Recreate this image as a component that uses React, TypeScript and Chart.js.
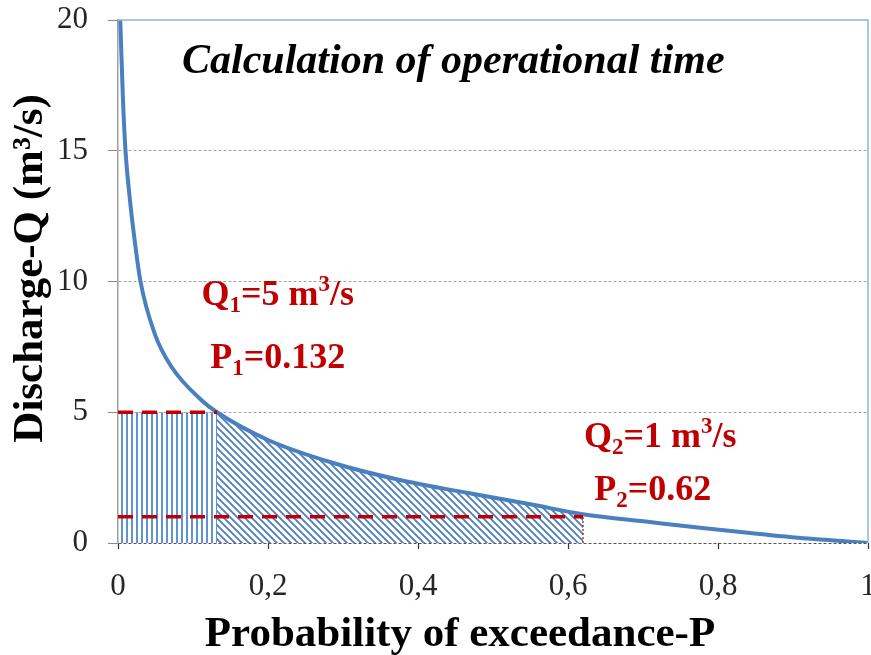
import React, { useEffect, useRef } from 'react';
import { Chart, registerables } from 'chart.js';

Chart.register(...registerables);

// Flow duration curve
const P_VALUES = [0.003, 0.0067, 0.01, 0.016, 0.021, 0.03, 0.049, 0.071, 0.111, 0.132, 0.2, 0.287, 0.376, 0.465, 0.55, 0.62, 0.709, 0.776, 0.843, 0.92, 0.976, 1.0];
const Q_VALUES = [20, 16.9, 15, 13.1, 11.85, 10, 8.0, 6.75, 5.47, 5, 3.94, 3.06, 2.41, 1.92, 1.48, 1.1, 0.8, 0.58, 0.38, 0.17, 0.05, 0];

const Q1 = 5;
const P1 = 0.132;
const Q2 = 1;
const P2 = 0.62;

const X_TICKS = [0, 0.2, 0.4, 0.6, 0.8, 1];
const X_TICK_LABELS = ['0', '0,2', '0,4', '0,6', '0,8', '1'];
const Y_MIN = 0;
const Y_MAX = 20;
const Y_STEP = 5;

const TITLE = 'Calculation of operational time';
const X_TITLE = 'Probability of exceedance-P';
const Y_TITLE = 'Discharge-Q (m³/s)';

const FONT = '"Liberation Serif", "Times New Roman", serif';
const RED = '#c00000';
const BLUE = '#4a7fc0';

type Seg = { t: string; k?: 'sub' | 'sup' };

function drawRich(ctx: CanvasRenderingContext2D, segs: Seg[], cx: number, base: number, size: number) {
  const main = `bold ${size}px ${FONT}`;
  const small = `bold ${Math.round(size * 0.64)}px ${FONT}`;
  const widths = segs.map((s) => {
    ctx.font = s.k ? small : main;
    return ctx.measureText(s.t).width;
  });
  const total = widths.reduce((a, b) => a + b, 0);
  let x = cx - total / 2;
  ctx.textAlign = 'left';
  ctx.textBaseline = 'alphabetic';
  segs.forEach((s, i) => {
    ctx.font = s.k ? small : main;
    const dy = s.k === 'sub' ? size * 0.2 : s.k === 'sup' ? -size * 0.38 : 0;
    ctx.fillText(s.t, x, base + dy);
    x += widths[i];
  });
}

function makeVerticalPattern(): CanvasPattern | string {
  const c = document.createElement('canvas');
  c.width = 5;
  c.height = 10;
  const g = c.getContext('2d');
  if (!g) return '#6b9ad6';
  g.fillStyle = '#5f92d3';
  g.fillRect(1, 0, 2, 10);
  return g.createPattern(c, 'repeat') || '#6b9ad6';
}

function makeDiagonalPattern(): CanvasPattern | string {
  const c = document.createElement('canvas');
  const s = 7;
  c.width = s;
  c.height = s;
  const g = c.getContext('2d');
  if (!g) return BLUE;
  g.strokeStyle = '#4a7ebf';
  g.lineWidth = 1.8;
  g.beginPath();
  g.moveTo(-1, -1);
  g.lineTo(s + 1, s + 1);
  g.moveTo(-1, s - 1);
  g.lineTo(1, s + 1);
  g.moveTo(s - 1, -1);
  g.lineTo(s + 1, 1);
  g.stroke();
  return g.createPattern(c, 'repeat') || BLUE;
}

const overlayPlugin = {
  id: 'overlay',
  afterDatasetsDraw(chart: any) {
    const { ctx, chartArea: ca, scales } = chart;
    const x = scales.x;
    const y = scales.y;
    ctx.save();
    // frame (top & right)
    ctx.strokeStyle = '#8db3e2';
    ctx.lineWidth = 1.5;
    ctx.beginPath();
    ctx.moveTo(ca.left, ca.top);
    ctx.lineTo(ca.right, ca.top);
    ctx.lineTo(ca.right, ca.bottom);
    ctx.stroke();

    // title inside plot
    ctx.fillStyle = '#000';
    ctx.font = `italic bold 42px ${FONT}`;
    ctx.textAlign = 'center';
    ctx.textBaseline = 'alphabetic';
    ctx.fillText(TITLE, x.getPixelForValue(0.447), y.getPixelForValue(17.97));

    // annotations
    ctx.fillStyle = RED;
    drawRich(ctx, [{ t: 'Q' }, { t: '1', k: 'sub' }, { t: `=${Q1} m` }, { t: '3', k: 'sup' }, { t: '/s' }], x.getPixelForValue(0.213), y.getPixelForValue(9.1), 36);
    drawRich(ctx, [{ t: 'P' }, { t: '1', k: 'sub' }, { t: `=${P1}` }], x.getPixelForValue(0.213), y.getPixelForValue(6.69), 36);
    drawRich(ctx, [{ t: 'Q' }, { t: '2', k: 'sub' }, { t: `=${Q2} m` }, { t: '3', k: 'sup' }, { t: '/s' }], x.getPixelForValue(0.723), y.getPixelForValue(3.67), 36);
    drawRich(ctx, [{ t: 'P' }, { t: '2', k: 'sub' }, { t: `=${P2}` }], x.getPixelForValue(0.713), y.getPixelForValue(1.64), 36);

    // axis titles
    ctx.fillStyle = '#000';
    ctx.font = `bold 43px ${FONT}`;
    ctx.textAlign = 'center';
    ctx.textBaseline = 'middle';
    ctx.fillText(X_TITLE, x.getPixelForValue(0.456), 635);
    ctx.save();
    ctx.translate(31, y.getPixelForValue(10.5));
    ctx.rotate(-Math.PI / 2);
    ctx.fillText(Y_TITLE, 0, 0);
    ctx.restore();
    ctx.restore();
  },
};

export default function App() {
  const ref = useRef<HTMLCanvasElement | null>(null);

  useEffect(() => {
    if (!ref.current) return;
    const curve = P_VALUES.map((p, i) => ({ x: p, y: Q_VALUES[i] }));
    const between = curve.filter((pt) => pt.x >= P1 - 1e-9 && pt.x <= P2 + 1e-9);

    const chart = new Chart(ref.current, {
      type: 'line',
      data: {
        datasets: [
          {
            label: 'Q1 line',
            data: [{ x: 0, y: Q1 }, { x: P1, y: Q1 }],
            borderColor: RED,
            borderWidth: 3.5,
            borderDash: [15, 9],
            pointRadius: 0,
            fill: false,
          },
          {
            label: 'Q2 line',
            data: [{ x: 0, y: Q2 }, { x: P2, y: Q2 }],
            borderColor: RED,
            borderWidth: 3.5,
            borderDash: [15, 9],
            pointRadius: 0,
            fill: false,
          },
          {
            label: 'P2 line',
            data: [{ x: P2, y: 0 }, { x: P2, y: Q2 }],
            borderColor: RED,
            borderWidth: 1.2,
            borderDash: [2, 2],
            pointRadius: 0,
            fill: false,
          },
          {
            label: 'Flow duration curve',
            data: curve,
            borderColor: BLUE,
            borderWidth: 4,
            pointRadius: 0,
            cubicInterpolationMode: 'monotone',
            fill: false,
          },
          {
            label: 'Diagonal hatch',
            data: between,
            borderWidth: 0,
            borderColor: 'rgba(0,0,0,0)',
            backgroundColor: makeDiagonalPattern() as any,
            pointRadius: 0,
            cubicInterpolationMode: 'monotone',
            fill: 'origin',
          },
          {
            label: 'Vertical hatch',
            data: [{ x: 0, y: Q1 }, { x: P1, y: Q1 }],
            borderWidth: 0,
            borderColor: 'rgba(0,0,0,0)',
            backgroundColor: makeVerticalPattern() as any,
            pointRadius: 0,
            fill: 'origin',
          },
        ],
      },
      options: {
        animation: false,
        responsive: false,
        maintainAspectRatio: false,
        layout: { padding: { top: 20, right: 3, left: 0, bottom: 0 } },
        plugins: {
          legend: { display: false },
          tooltip: { enabled: false },
          title: { display: false },
        },
        scales: {
          x: {
            type: 'linear',
            min: 0,
            max: 1,
            afterBuildTicks: (s: any) => {
              s.ticks = X_TICKS.map((v) => ({ value: v }));
            },
            afterFit: (s: any) => {
              s.height = 112;
              s.paddingLeft = 0;
              s.paddingRight = 0;
            },
            ticks: {
              autoSkip: false,
              maxRotation: 0,
              padding: 19,
              color: '#262626',
              font: { family: FONT, size: 31 },
              callback: (_v: any, i: number) => X_TICK_LABELS[i],
            },
            grid: {
              display: true,
              drawOnChartArea: false,
              drawTicks: true,
              tickLength: 6,
              tickColor: '#333',
              tickWidth: 1.2,
            },
            border: { display: false },
            title: { display: false },
          },
          y: {
            type: 'linear',
            min: Y_MIN,
            max: Y_MAX,
            afterFit: (s: any) => {
              s.width = 118;
              s.paddingTop = 0;
              s.paddingBottom = 0;
            },
            ticks: {
              stepSize: Y_STEP,
              padding: 20,
              color: '#262626',
              font: { family: FONT, size: 31 },
            },
            grid: {
              color: (c: any) => (c.tick && c.tick.value === Y_MAX ? 'rgba(0,0,0,0)' : c.tick && c.tick.value === 0 ? '#555' : '#a6a6a6'),
              lineWidth: 1,
              drawTicks: true,
              tickLength: 10,
              tickColor: '#8a8a8a',
              tickWidth: 1,
            },
            border: { display: true, color: '#a0a0a0', width: 1.5, dash: [3, 2] },
            title: { display: false },
          },
        },
      },
      plugins: [overlayPlugin],
    } as any);

    return () => chart.destroy();
  }, []);

  return (
    <div style={{ position: 'absolute', left: 0, top: 0, width: 871, height: 655, background: '#fff' }}>
      <canvas ref={ref} width={871} height={655} style={{ display: 'block', width: 871, height: 655 }} />
    </div>
  );
}
